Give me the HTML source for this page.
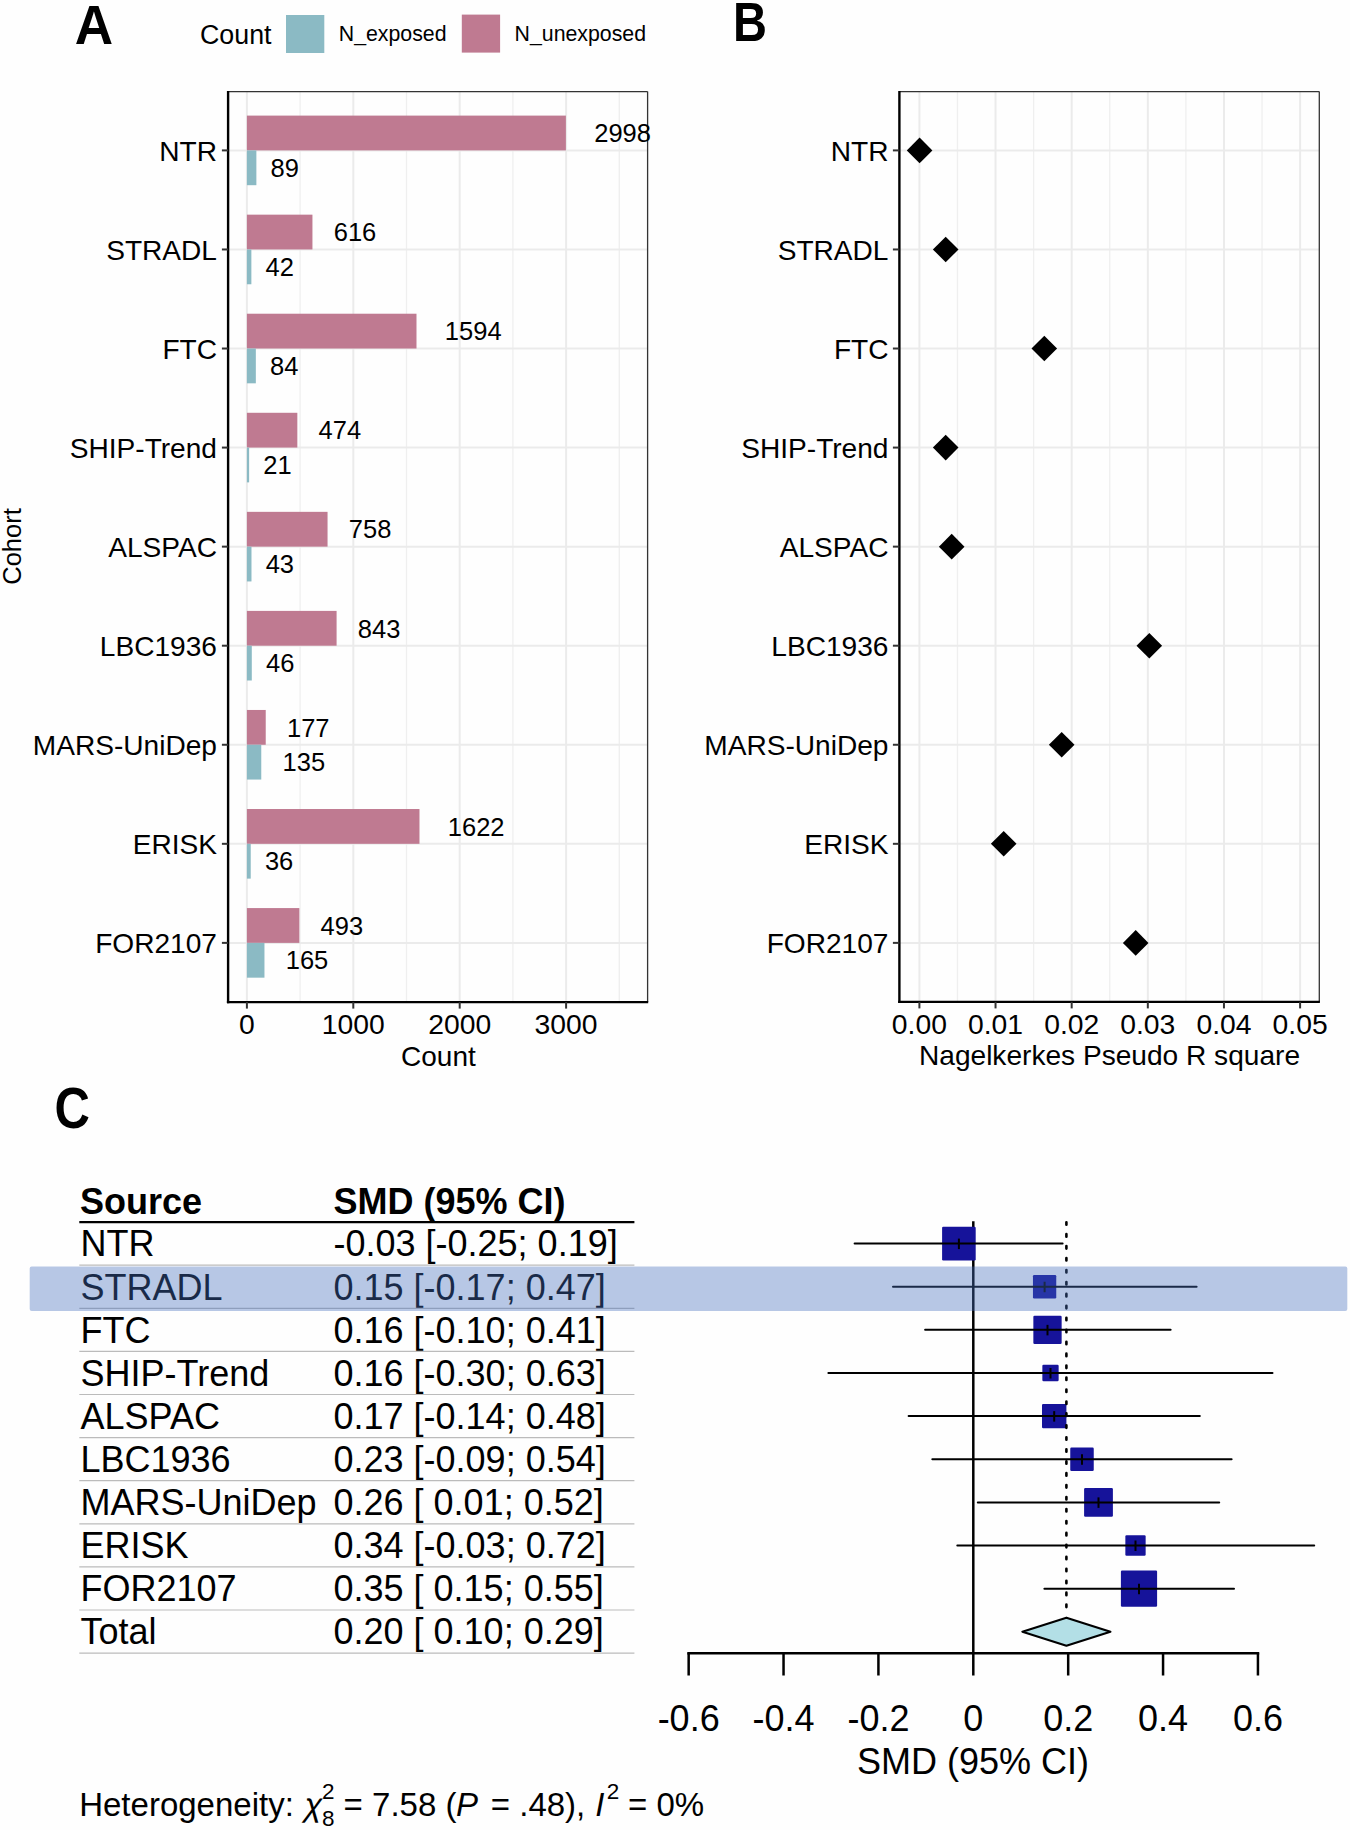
<!DOCTYPE html>
<html><head><meta charset="utf-8"><style>
html,body{margin:0;padding:0;background:#fefefe;}
svg{display:block;font-family:"Liberation Sans", sans-serif;}
</style></head><body>
<svg width="1350" height="1830" viewBox="0 0 1350 1830">
<rect width="1350" height="1830" fill="#fefefe"/>
<text x="0" y="0" font-size="56" font-weight="bold" transform="translate(74.8,43.8) scale(0.95,1)">A</text>
<text x="200" y="43.8" font-size="26.8" text-anchor="start" font-weight="normal" fill="#000" >Count</text>
<rect x="286" y="15" width="38.3" height="38" fill="#8bbac4" />
<text x="338.8" y="41.1" font-size="21.3" text-anchor="start" font-weight="normal" fill="#000" >N_exposed</text>
<rect x="461.8" y="14.6" width="38.3" height="38" fill="#bf7a91" />
<text x="514.6" y="41.1" font-size="21.3" text-anchor="start" font-weight="normal" fill="#000" >N_unexposed</text>
<line x1="246.9" y1="91.6" x2="246.9" y2="1002.1" stroke="#ebebeb" stroke-width="2.0" />
<line x1="300.1" y1="91.6" x2="300.1" y2="1002.1" stroke="#efefef" stroke-width="1.3" />
<line x1="353.3" y1="91.6" x2="353.3" y2="1002.1" stroke="#ebebeb" stroke-width="2.0" />
<line x1="406.5" y1="91.6" x2="406.5" y2="1002.1" stroke="#efefef" stroke-width="1.3" />
<line x1="459.7" y1="91.6" x2="459.7" y2="1002.1" stroke="#ebebeb" stroke-width="2.0" />
<line x1="512.9" y1="91.6" x2="512.9" y2="1002.1" stroke="#efefef" stroke-width="1.3" />
<line x1="566.1" y1="91.6" x2="566.1" y2="1002.1" stroke="#ebebeb" stroke-width="2.0" />
<line x1="619.3" y1="91.6" x2="619.3" y2="1002.1" stroke="#efefef" stroke-width="1.3" />
<line x1="228.1" y1="150.4" x2="647.6" y2="150.4" stroke="#ebebeb" stroke-width="2.0" />
<line x1="228.1" y1="249.46" x2="647.6" y2="249.46" stroke="#ebebeb" stroke-width="2.0" />
<line x1="228.1" y1="348.52" x2="647.6" y2="348.52" stroke="#ebebeb" stroke-width="2.0" />
<line x1="228.1" y1="447.58000000000004" x2="647.6" y2="447.58000000000004" stroke="#ebebeb" stroke-width="2.0" />
<line x1="228.1" y1="546.64" x2="647.6" y2="546.64" stroke="#ebebeb" stroke-width="2.0" />
<line x1="228.1" y1="645.7" x2="647.6" y2="645.7" stroke="#ebebeb" stroke-width="2.0" />
<line x1="228.1" y1="744.76" x2="647.6" y2="744.76" stroke="#ebebeb" stroke-width="2.0" />
<line x1="228.1" y1="843.82" x2="647.6" y2="843.82" stroke="#ebebeb" stroke-width="2.0" />
<line x1="228.1" y1="942.88" x2="647.6" y2="942.88" stroke="#ebebeb" stroke-width="2.0" />
<rect x="246.9" y="115.60000000000001" width="318.9872" height="34.8" fill="#bf7a91" />
<rect x="246.9" y="150.4" width="9.4696" height="34.8" fill="#8bbac4" />
<rect x="246.9" y="214.66000000000003" width="65.5424" height="34.8" fill="#bf7a91" />
<rect x="246.9" y="249.46" width="4.4688" height="34.8" fill="#8bbac4" />
<rect x="246.9" y="313.71999999999997" width="169.6016" height="34.8" fill="#bf7a91" />
<rect x="246.9" y="348.52" width="8.9376" height="34.8" fill="#8bbac4" />
<rect x="246.9" y="412.78000000000003" width="50.4336" height="34.8" fill="#bf7a91" />
<rect x="246.9" y="447.58000000000004" width="2.2344" height="34.8" fill="#8bbac4" />
<rect x="246.9" y="511.84" width="80.6512" height="34.8" fill="#bf7a91" />
<rect x="246.9" y="546.64" width="4.5752" height="34.8" fill="#8bbac4" />
<rect x="246.9" y="610.9000000000001" width="89.6952" height="34.8" fill="#bf7a91" />
<rect x="246.9" y="645.7" width="4.8944" height="34.8" fill="#8bbac4" />
<rect x="246.9" y="709.96" width="18.8328" height="34.8" fill="#bf7a91" />
<rect x="246.9" y="744.76" width="14.363999999999999" height="34.8" fill="#8bbac4" />
<rect x="246.9" y="809.0200000000001" width="172.58079999999998" height="34.8" fill="#bf7a91" />
<rect x="246.9" y="843.82" width="3.8304" height="34.8" fill="#8bbac4" />
<rect x="246.9" y="908.08" width="52.4552" height="34.8" fill="#bf7a91" />
<rect x="246.9" y="942.88" width="17.555999999999997" height="34.8" fill="#8bbac4" />
<line x1="228.1" y1="91.6" x2="647.6" y2="91.6" stroke="#333" stroke-width="1.3" />
<line x1="647.6" y1="91.6" x2="647.6" y2="1002.1" stroke="#333" stroke-width="1.3" />
<line x1="228.1" y1="91.0" x2="228.1" y2="1003.3000000000001" stroke="#000" stroke-width="2.4" />
<line x1="226.9" y1="1002.1" x2="648.2" y2="1002.1" stroke="#000" stroke-width="2.4" />
<line x1="221.9" y1="150.4" x2="228.1" y2="150.4" stroke="#333" stroke-width="2.0" />
<text x="217" y="160.6" font-size="28.1" text-anchor="end" font-weight="normal" fill="#000" >NTR</text>
<line x1="221.9" y1="249.46" x2="228.1" y2="249.46" stroke="#333" stroke-width="2.0" />
<text x="217" y="259.66" font-size="28.1" text-anchor="end" font-weight="normal" fill="#000" >STRADL</text>
<line x1="221.9" y1="348.52" x2="228.1" y2="348.52" stroke="#333" stroke-width="2.0" />
<text x="217" y="358.71999999999997" font-size="28.1" text-anchor="end" font-weight="normal" fill="#000" >FTC</text>
<line x1="221.9" y1="447.58000000000004" x2="228.1" y2="447.58000000000004" stroke="#333" stroke-width="2.0" />
<text x="217" y="457.78000000000003" font-size="28.1" text-anchor="end" font-weight="normal" fill="#000" >SHIP-Trend</text>
<line x1="221.9" y1="546.64" x2="228.1" y2="546.64" stroke="#333" stroke-width="2.0" />
<text x="217" y="556.84" font-size="28.1" text-anchor="end" font-weight="normal" fill="#000" >ALSPAC</text>
<line x1="221.9" y1="645.7" x2="228.1" y2="645.7" stroke="#333" stroke-width="2.0" />
<text x="217" y="655.9000000000001" font-size="28.1" text-anchor="end" font-weight="normal" fill="#000" >LBC1936</text>
<line x1="221.9" y1="744.76" x2="228.1" y2="744.76" stroke="#333" stroke-width="2.0" />
<text x="217" y="754.96" font-size="28.1" text-anchor="end" font-weight="normal" fill="#000" >MARS-UniDep</text>
<line x1="221.9" y1="843.82" x2="228.1" y2="843.82" stroke="#333" stroke-width="2.0" />
<text x="217" y="854.0200000000001" font-size="28.1" text-anchor="end" font-weight="normal" fill="#000" >ERISK</text>
<line x1="221.9" y1="942.88" x2="228.1" y2="942.88" stroke="#333" stroke-width="2.0" />
<text x="217" y="953.08" font-size="28.1" text-anchor="end" font-weight="normal" fill="#000" >FOR2107</text>
<line x1="246.9" y1="1002.1" x2="246.9" y2="1008.6" stroke="#333" stroke-width="2.0" />
<text x="246.9" y="1034" font-size="28.3" text-anchor="middle" font-weight="normal" fill="#000" >0</text>
<line x1="353.3" y1="1002.1" x2="353.3" y2="1008.6" stroke="#333" stroke-width="2.0" />
<text x="353.3" y="1034" font-size="28.3" text-anchor="middle" font-weight="normal" fill="#000" >1000</text>
<line x1="459.7" y1="1002.1" x2="459.7" y2="1008.6" stroke="#333" stroke-width="2.0" />
<text x="459.7" y="1034" font-size="28.3" text-anchor="middle" font-weight="normal" fill="#000" >2000</text>
<line x1="566.1" y1="1002.1" x2="566.1" y2="1008.6" stroke="#333" stroke-width="2.0" />
<text x="566.1" y="1034" font-size="28.3" text-anchor="middle" font-weight="normal" fill="#000" >3000</text>
<text x="438.4" y="1065.6" font-size="28" text-anchor="middle" font-weight="normal" fill="#000" >Count</text>
<text x="594.2432" y="142.20000000000002" font-size="25.5" text-anchor="start" font-weight="normal" fill="#000" >2998</text>
<text x="270.5476" y="177.0" font-size="25.5" text-anchor="start" font-weight="normal" fill="#000" >89</text>
<text x="333.7094" y="241.26000000000002" font-size="25.5" text-anchor="start" font-weight="normal" fill="#000" >616</text>
<text x="265.5468" y="276.06" font-size="25.5" text-anchor="start" font-weight="normal" fill="#000" >42</text>
<text x="444.8576" y="340.32" font-size="25.5" text-anchor="start" font-weight="normal" fill="#000" >1594</text>
<text x="270.0156" y="375.12" font-size="25.5" text-anchor="start" font-weight="normal" fill="#000" >84</text>
<text x="318.6006" y="439.38000000000005" font-size="25.5" text-anchor="start" font-weight="normal" fill="#000" >474</text>
<text x="263.3124" y="474.18000000000006" font-size="25.5" text-anchor="start" font-weight="normal" fill="#000" >21</text>
<text x="348.8182" y="538.4399999999999" font-size="25.5" text-anchor="start" font-weight="normal" fill="#000" >758</text>
<text x="265.6532" y="573.24" font-size="25.5" text-anchor="start" font-weight="normal" fill="#000" >43</text>
<text x="357.8622" y="637.5" font-size="25.5" text-anchor="start" font-weight="normal" fill="#000" >843</text>
<text x="265.9724" y="672.3000000000001" font-size="25.5" text-anchor="start" font-weight="normal" fill="#000" >46</text>
<text x="286.9998" y="736.56" font-size="25.5" text-anchor="start" font-weight="normal" fill="#000" >177</text>
<text x="282.531" y="771.36" font-size="25.5" text-anchor="start" font-weight="normal" fill="#000" >135</text>
<text x="447.8368" y="835.62" font-size="25.5" text-anchor="start" font-weight="normal" fill="#000" >1622</text>
<text x="264.90840000000003" y="870.4200000000001" font-size="25.5" text-anchor="start" font-weight="normal" fill="#000" >36</text>
<text x="320.6222" y="934.68" font-size="25.5" text-anchor="start" font-weight="normal" fill="#000" >493</text>
<text x="285.723" y="969.48" font-size="25.5" text-anchor="start" font-weight="normal" fill="#000" >165</text>
<text x="0" y="0" font-size="25.5" text-anchor="middle" transform="translate(21,546.5) rotate(-90)">Cohort</text>
<text x="0" y="0" font-size="56" font-weight="bold" transform="translate(733,41.1) scale(0.84,1)">B</text>
<line x1="919.4" y1="91.6" x2="919.4" y2="1001.9" stroke="#ebebeb" stroke-width="2.0" />
<line x1="957.47" y1="91.6" x2="957.47" y2="1001.9" stroke="#efefef" stroke-width="1.3" />
<line x1="995.54" y1="91.6" x2="995.54" y2="1001.9" stroke="#ebebeb" stroke-width="2.0" />
<line x1="1033.61" y1="91.6" x2="1033.61" y2="1001.9" stroke="#efefef" stroke-width="1.3" />
<line x1="1071.68" y1="91.6" x2="1071.68" y2="1001.9" stroke="#ebebeb" stroke-width="2.0" />
<line x1="1109.75" y1="91.6" x2="1109.75" y2="1001.9" stroke="#efefef" stroke-width="1.3" />
<line x1="1147.82" y1="91.6" x2="1147.82" y2="1001.9" stroke="#ebebeb" stroke-width="2.0" />
<line x1="1185.8899999999999" y1="91.6" x2="1185.8899999999999" y2="1001.9" stroke="#efefef" stroke-width="1.3" />
<line x1="1223.96" y1="91.6" x2="1223.96" y2="1001.9" stroke="#ebebeb" stroke-width="2.0" />
<line x1="1262.03" y1="91.6" x2="1262.03" y2="1001.9" stroke="#efefef" stroke-width="1.3" />
<line x1="1300.1" y1="91.6" x2="1300.1" y2="1001.9" stroke="#ebebeb" stroke-width="2.0" />
<line x1="899.4" y1="150.4" x2="1319.3" y2="150.4" stroke="#ebebeb" stroke-width="2.0" />
<line x1="899.4" y1="249.46" x2="1319.3" y2="249.46" stroke="#ebebeb" stroke-width="2.0" />
<line x1="899.4" y1="348.52" x2="1319.3" y2="348.52" stroke="#ebebeb" stroke-width="2.0" />
<line x1="899.4" y1="447.58000000000004" x2="1319.3" y2="447.58000000000004" stroke="#ebebeb" stroke-width="2.0" />
<line x1="899.4" y1="546.64" x2="1319.3" y2="546.64" stroke="#ebebeb" stroke-width="2.0" />
<line x1="899.4" y1="645.7" x2="1319.3" y2="645.7" stroke="#ebebeb" stroke-width="2.0" />
<line x1="899.4" y1="744.76" x2="1319.3" y2="744.76" stroke="#ebebeb" stroke-width="2.0" />
<line x1="899.4" y1="843.82" x2="1319.3" y2="843.82" stroke="#ebebeb" stroke-width="2.0" />
<line x1="899.4" y1="942.88" x2="1319.3" y2="942.88" stroke="#ebebeb" stroke-width="2.0" />
<line x1="899.4" y1="91.6" x2="1319.3" y2="91.6" stroke="#333" stroke-width="1.3" />
<line x1="1319.3" y1="91.6" x2="1319.3" y2="1001.9" stroke="#333" stroke-width="1.3" />
<line x1="899.4" y1="91.0" x2="899.4" y2="1003.1" stroke="#000" stroke-width="2.4" />
<line x1="898.1999999999999" y1="1001.9" x2="1319.8999999999999" y2="1001.9" stroke="#000" stroke-width="2.4" />
<line x1="892.9" y1="150.4" x2="899.4" y2="150.4" stroke="#333" stroke-width="2.0" />
<text x="888.5" y="160.6" font-size="28.1" text-anchor="end" font-weight="normal" fill="#000" >NTR</text>
<line x1="892.9" y1="249.46" x2="899.4" y2="249.46" stroke="#333" stroke-width="2.0" />
<text x="888.5" y="259.66" font-size="28.1" text-anchor="end" font-weight="normal" fill="#000" >STRADL</text>
<line x1="892.9" y1="348.52" x2="899.4" y2="348.52" stroke="#333" stroke-width="2.0" />
<text x="888.5" y="358.71999999999997" font-size="28.1" text-anchor="end" font-weight="normal" fill="#000" >FTC</text>
<line x1="892.9" y1="447.58000000000004" x2="899.4" y2="447.58000000000004" stroke="#333" stroke-width="2.0" />
<text x="888.5" y="457.78000000000003" font-size="28.1" text-anchor="end" font-weight="normal" fill="#000" >SHIP-Trend</text>
<line x1="892.9" y1="546.64" x2="899.4" y2="546.64" stroke="#333" stroke-width="2.0" />
<text x="888.5" y="556.84" font-size="28.1" text-anchor="end" font-weight="normal" fill="#000" >ALSPAC</text>
<line x1="892.9" y1="645.7" x2="899.4" y2="645.7" stroke="#333" stroke-width="2.0" />
<text x="888.5" y="655.9000000000001" font-size="28.1" text-anchor="end" font-weight="normal" fill="#000" >LBC1936</text>
<line x1="892.9" y1="744.76" x2="899.4" y2="744.76" stroke="#333" stroke-width="2.0" />
<text x="888.5" y="754.96" font-size="28.1" text-anchor="end" font-weight="normal" fill="#000" >MARS-UniDep</text>
<line x1="892.9" y1="843.82" x2="899.4" y2="843.82" stroke="#333" stroke-width="2.0" />
<text x="888.5" y="854.0200000000001" font-size="28.1" text-anchor="end" font-weight="normal" fill="#000" >ERISK</text>
<line x1="892.9" y1="942.88" x2="899.4" y2="942.88" stroke="#333" stroke-width="2.0" />
<text x="888.5" y="953.08" font-size="28.1" text-anchor="end" font-weight="normal" fill="#000" >FOR2107</text>
<line x1="919.4" y1="1001.9" x2="919.4" y2="1008.4" stroke="#333" stroke-width="2.0" />
<text x="919.4" y="1033.5" font-size="28.3" text-anchor="middle" font-weight="normal" fill="#000" >0.00</text>
<line x1="995.54" y1="1001.9" x2="995.54" y2="1008.4" stroke="#333" stroke-width="2.0" />
<text x="995.54" y="1033.5" font-size="28.3" text-anchor="middle" font-weight="normal" fill="#000" >0.01</text>
<line x1="1071.68" y1="1001.9" x2="1071.68" y2="1008.4" stroke="#333" stroke-width="2.0" />
<text x="1071.68" y="1033.5" font-size="28.3" text-anchor="middle" font-weight="normal" fill="#000" >0.02</text>
<line x1="1147.82" y1="1001.9" x2="1147.82" y2="1008.4" stroke="#333" stroke-width="2.0" />
<text x="1147.82" y="1033.5" font-size="28.3" text-anchor="middle" font-weight="normal" fill="#000" >0.03</text>
<line x1="1223.96" y1="1001.9" x2="1223.96" y2="1008.4" stroke="#333" stroke-width="2.0" />
<text x="1223.96" y="1033.5" font-size="28.3" text-anchor="middle" font-weight="normal" fill="#000" >0.04</text>
<line x1="1300.1" y1="1001.9" x2="1300.1" y2="1008.4" stroke="#333" stroke-width="2.0" />
<text x="1300.1" y="1033.5" font-size="28.3" text-anchor="middle" font-weight="normal" fill="#000" >0.05</text>
<text x="1109.5" y="1065.2" font-size="28.1" text-anchor="middle" font-weight="normal" fill="#000" >Nagelkerkes Pseudo R square</text>
<path d="M906.8000000000001 150.4 L919.6 137.6 L932.4 150.4 L919.6 163.20000000000002 Z" fill="#000"/>
<path d="M932.9000000000001 249.46 L945.7 236.66 L958.5 249.46 L945.7 262.26 Z" fill="#000"/>
<path d="M1031.5 348.52 L1044.3 335.71999999999997 L1057.1 348.52 L1044.3 361.32 Z" fill="#000"/>
<path d="M932.9000000000001 447.58000000000004 L945.7 434.78000000000003 L958.5 447.58000000000004 L945.7 460.38000000000005 Z" fill="#000"/>
<path d="M938.9000000000001 546.64 L951.7 533.84 L964.5 546.64 L951.7 559.4399999999999 Z" fill="#000"/>
<path d="M1136.5 645.7 L1149.3 632.9000000000001 L1162.1 645.7 L1149.3 658.5 Z" fill="#000"/>
<path d="M1048.9 744.76 L1061.7 731.96 L1074.5 744.76 L1061.7 757.56 Z" fill="#000"/>
<path d="M990.9000000000001 843.82 L1003.7 831.0200000000001 L1016.5 843.82 L1003.7 856.62 Z" fill="#000"/>
<path d="M1122.9 942.88 L1135.7 930.08 L1148.5 942.88 L1135.7 955.68 Z" fill="#000"/>
<text x="0" y="0" font-size="57" font-weight="bold" transform="translate(54.5,1128.2) scale(0.86,1)">C</text>
<text x="80" y="1213.6" font-size="36" text-anchor="start" font-weight="bold" fill="#000" >Source</text>
<text x="333.5" y="1213.6" font-size="36" text-anchor="start" font-weight="bold" fill="#000" >SMD (95% CI)</text>
<line x1="79.3" y1="1222.1" x2="634.4" y2="1222.1" stroke="#000" stroke-width="2.2" />
<text x="80.5" y="1256.4" font-size="36" text-anchor="start" font-weight="normal" fill="#000" xml:space="preserve">NTR</text>
<text x="333.5" y="1256.4" font-size="36" text-anchor="start" font-weight="normal" fill="#000" xml:space="preserve">-0.03 [-0.25; 0.19]</text>
<line x1="79.3" y1="1265.2" x2="634.4" y2="1265.2" stroke="#bbb" stroke-width="1.2" />
<text x="80.5" y="1299.5" font-size="36" text-anchor="start" font-weight="normal" fill="#000" xml:space="preserve">STRADL</text>
<text x="333.5" y="1299.5" font-size="36" text-anchor="start" font-weight="normal" fill="#000" xml:space="preserve">0.15 [-0.17; 0.47]</text>
<line x1="79.3" y1="1308.3" x2="634.4" y2="1308.3" stroke="#bbb" stroke-width="1.2" />
<text x="80.5" y="1342.6000000000001" font-size="36" text-anchor="start" font-weight="normal" fill="#000" xml:space="preserve">FTC</text>
<text x="333.5" y="1342.6000000000001" font-size="36" text-anchor="start" font-weight="normal" fill="#000" xml:space="preserve">0.16 [-0.10; 0.41]</text>
<line x1="79.3" y1="1351.4" x2="634.4" y2="1351.4" stroke="#bbb" stroke-width="1.2" />
<text x="80.5" y="1385.7" font-size="36" text-anchor="start" font-weight="normal" fill="#000" xml:space="preserve">SHIP-Trend</text>
<text x="333.5" y="1385.7" font-size="36" text-anchor="start" font-weight="normal" fill="#000" xml:space="preserve">0.16 [-0.30; 0.63]</text>
<line x1="79.3" y1="1394.5" x2="634.4" y2="1394.5" stroke="#bbb" stroke-width="1.2" />
<text x="80.5" y="1428.8000000000002" font-size="36" text-anchor="start" font-weight="normal" fill="#000" xml:space="preserve">ALSPAC</text>
<text x="333.5" y="1428.8000000000002" font-size="36" text-anchor="start" font-weight="normal" fill="#000" xml:space="preserve">0.17 [-0.14; 0.48]</text>
<line x1="79.3" y1="1437.6000000000001" x2="634.4" y2="1437.6000000000001" stroke="#bbb" stroke-width="1.2" />
<text x="80.5" y="1471.9" font-size="36" text-anchor="start" font-weight="normal" fill="#000" xml:space="preserve">LBC1936</text>
<text x="333.5" y="1471.9" font-size="36" text-anchor="start" font-weight="normal" fill="#000" xml:space="preserve">0.23 [-0.09; 0.54]</text>
<line x1="79.3" y1="1480.7" x2="634.4" y2="1480.7" stroke="#bbb" stroke-width="1.2" />
<text x="80.5" y="1515.0" font-size="36" text-anchor="start" font-weight="normal" fill="#000" xml:space="preserve">MARS-UniDep</text>
<text x="333.5" y="1515.0" font-size="36" text-anchor="start" font-weight="normal" fill="#000" xml:space="preserve">0.26 [ 0.01; 0.52]</text>
<line x1="79.3" y1="1523.8" x2="634.4" y2="1523.8" stroke="#bbb" stroke-width="1.2" />
<text x="80.5" y="1558.1000000000001" font-size="36" text-anchor="start" font-weight="normal" fill="#000" xml:space="preserve">ERISK</text>
<text x="333.5" y="1558.1000000000001" font-size="36" text-anchor="start" font-weight="normal" fill="#000" xml:space="preserve">0.34 [-0.03; 0.72]</text>
<line x1="79.3" y1="1566.9" x2="634.4" y2="1566.9" stroke="#bbb" stroke-width="1.2" />
<text x="80.5" y="1601.2" font-size="36" text-anchor="start" font-weight="normal" fill="#000" xml:space="preserve">FOR2107</text>
<text x="333.5" y="1601.2" font-size="36" text-anchor="start" font-weight="normal" fill="#000" xml:space="preserve">0.35 [ 0.15; 0.55]</text>
<line x1="79.3" y1="1610.0" x2="634.4" y2="1610.0" stroke="#bbb" stroke-width="1.2" />
<text x="80.5" y="1644.3000000000002" font-size="36" text-anchor="start" font-weight="normal" fill="#000" xml:space="preserve">Total</text>
<text x="333.5" y="1644.3000000000002" font-size="36" text-anchor="start" font-weight="normal" fill="#000" xml:space="preserve">0.20 [ 0.10; 0.29]</text>
<line x1="79.3" y1="1653.1000000000001" x2="634.4" y2="1653.1000000000001" stroke="#bbb" stroke-width="1.2" />
<line x1="973.3" y1="1221.3" x2="973.3" y2="1653.3" stroke="#000" stroke-width="2.5" />
<rect x="942.1" y="1226.8" width="33.6" height="33.6" fill="#16139a" rx="1.2"/>
<line x1="854.6" y1="1243.6" x2="1062.6" y2="1243.6" stroke="#000" stroke-width="2.0" stroke-linecap="round"/>
<line x1="958.9" y1="1238.6" x2="958.9" y2="1249.1" stroke="#000" stroke-width="2.0" />
<rect x="1032.9499999999998" y="1275.08" width="23.3" height="23.3" fill="#16139a" rx="1.2"/>
<line x1="893" y1="1286.73" x2="1196.6" y2="1286.73" stroke="#000" stroke-width="2.0" stroke-linecap="round"/>
<line x1="1044.6" y1="1281.73" x2="1044.6" y2="1292.23" stroke="#000" stroke-width="2.0" />
<rect x="1033.35" y="1315.7099999999998" width="28.3" height="28.3" fill="#16139a" rx="1.2"/>
<line x1="925.1" y1="1329.86" x2="1170.6" y2="1329.86" stroke="#000" stroke-width="2.0" stroke-linecap="round"/>
<line x1="1047.5" y1="1324.86" x2="1047.5" y2="1335.36" stroke="#000" stroke-width="2.0" />
<rect x="1042.35" y="1364.84" width="16.3" height="16.3" fill="#16139a" rx="1.2"/>
<line x1="828.4" y1="1372.99" x2="1272.5" y2="1372.99" stroke="#000" stroke-width="2.0" stroke-linecap="round"/>
<line x1="1050.5" y1="1367.99" x2="1050.5" y2="1378.49" stroke="#000" stroke-width="2.0" />
<rect x="1042.0" y="1403.9199999999998" width="24.4" height="24.4" fill="#16139a" rx="1.2"/>
<line x1="908.6" y1="1416.12" x2="1199.8" y2="1416.12" stroke="#000" stroke-width="2.0" stroke-linecap="round"/>
<line x1="1054.2" y1="1411.12" x2="1054.2" y2="1421.62" stroke="#000" stroke-width="2.0" />
<rect x="1070.25" y="1447.5" width="23.5" height="23.5" fill="#16139a" rx="1.2"/>
<line x1="932.3" y1="1459.25" x2="1231.6" y2="1459.25" stroke="#000" stroke-width="2.0" stroke-linecap="round"/>
<line x1="1082" y1="1454.25" x2="1082" y2="1464.75" stroke="#000" stroke-width="2.0" />
<rect x="1084.1" y="1487.9799999999998" width="28.8" height="28.8" fill="#16139a" rx="1.2"/>
<line x1="977.8" y1="1502.3799999999999" x2="1219.2" y2="1502.3799999999999" stroke="#000" stroke-width="2.0" stroke-linecap="round"/>
<line x1="1098.5" y1="1497.3799999999999" x2="1098.5" y2="1507.8799999999999" stroke="#000" stroke-width="2.0" />
<rect x="1125.35" y="1535.36" width="20.3" height="20.3" fill="#16139a" rx="1.2"/>
<line x1="957.3" y1="1545.51" x2="1314.2" y2="1545.51" stroke="#000" stroke-width="2.0" stroke-linecap="round"/>
<line x1="1135.5" y1="1540.51" x2="1135.5" y2="1551.01" stroke="#000" stroke-width="2.0" />
<rect x="1120.9" y="1570.54" width="36.2" height="36.2" fill="#16139a" rx="1.2"/>
<line x1="1044.4" y1="1588.6399999999999" x2="1234" y2="1588.6399999999999" stroke="#000" stroke-width="2.0" stroke-linecap="round"/>
<line x1="1139" y1="1583.6399999999999" x2="1139" y2="1594.1399999999999" stroke="#000" stroke-width="2.0" />
<line x1="1066.4" y1="1222.2" x2="1066.4" y2="1608" stroke="#000" stroke-width="2.6" stroke-dasharray="2.5 9.45" stroke-linecap="round"/>
<path d="M1022.4 1631.7 L1066.4 1617.7 L1110.4 1631.7 L1066.4 1645.7 Z" fill="#b3dfe6" stroke="#000" stroke-width="2.2" stroke-linejoin="round"/>
<line x1="688.5" y1="1653.3" x2="1258" y2="1653.3" stroke="#000" stroke-width="2.5" stroke-linecap="square"/>
<line x1="688.6599999999999" y1="1653.3" x2="688.6599999999999" y2="1675.5" stroke="#000" stroke-width="2.5" />
<text x="688.6599999999999" y="1731" font-size="36" text-anchor="middle" font-weight="normal" fill="#000" >-0.6</text>
<line x1="783.54" y1="1653.3" x2="783.54" y2="1675.5" stroke="#000" stroke-width="2.5" />
<text x="783.54" y="1731" font-size="36" text-anchor="middle" font-weight="normal" fill="#000" >-0.4</text>
<line x1="878.42" y1="1653.3" x2="878.42" y2="1675.5" stroke="#000" stroke-width="2.5" />
<text x="878.42" y="1731" font-size="36" text-anchor="middle" font-weight="normal" fill="#000" >-0.2</text>
<line x1="973.3" y1="1653.3" x2="973.3" y2="1675.5" stroke="#000" stroke-width="2.5" />
<text x="973.3" y="1731" font-size="36" text-anchor="middle" font-weight="normal" fill="#000" >0</text>
<line x1="1068.1799999999998" y1="1653.3" x2="1068.1799999999998" y2="1675.5" stroke="#000" stroke-width="2.5" />
<text x="1068.1799999999998" y="1731" font-size="36" text-anchor="middle" font-weight="normal" fill="#000" >0.2</text>
<line x1="1163.06" y1="1653.3" x2="1163.06" y2="1675.5" stroke="#000" stroke-width="2.5" />
<text x="1163.06" y="1731" font-size="36" text-anchor="middle" font-weight="normal" fill="#000" >0.4</text>
<line x1="1257.94" y1="1653.3" x2="1257.94" y2="1675.5" stroke="#000" stroke-width="2.5" />
<text x="1257.94" y="1731" font-size="36" text-anchor="middle" font-weight="normal" fill="#000" >0.6</text>
<text x="973" y="1774.2" font-size="36" text-anchor="middle" font-weight="normal" fill="#000" >SMD (95% CI)</text>
<text x="79.2" y="1816.1" font-size="33" text-anchor="start" font-weight="normal" fill="#000" >Heterogeneity:</text>
<text x="0" y="0" font-size="33" transform="translate(302.7,1816.1) skewX(-12)">χ</text>
<text x="322" y="1825.9" font-size="22.5" text-anchor="start" font-weight="normal" fill="#000" >8</text>
<text x="322" y="1799.3" font-size="22.5" text-anchor="start" font-weight="normal" fill="#000" >2</text>
<text x="343.6" y="1816.1" font-size="33" text-anchor="start" font-weight="normal" fill="#000" xml:space="preserve">= 7.58 (</text>
<text x="456" y="1816.1" font-size="33" text-anchor="start" font-weight="normal" fill="#000" font-style="italic">P</text>
<text x="490.8" y="1816.1" font-size="33" text-anchor="start" font-weight="normal" fill="#000" xml:space="preserve">= .48),</text>
<text x="595.2" y="1816.1" font-size="33" text-anchor="start" font-weight="normal" fill="#000" font-style="italic">I</text>
<text x="606.8" y="1799.3" font-size="22.5" text-anchor="start" font-weight="normal" fill="#000" >2</text>
<text x="628" y="1816.1" font-size="33" text-anchor="start" font-weight="normal" fill="#000" xml:space="preserve">= 0%</text>
<rect x="29.7" y="1266.5" width="1317.6" height="44.4" fill="rgba(68,110,189,0.38)" rx="2"/>
</svg>
</body></html>
